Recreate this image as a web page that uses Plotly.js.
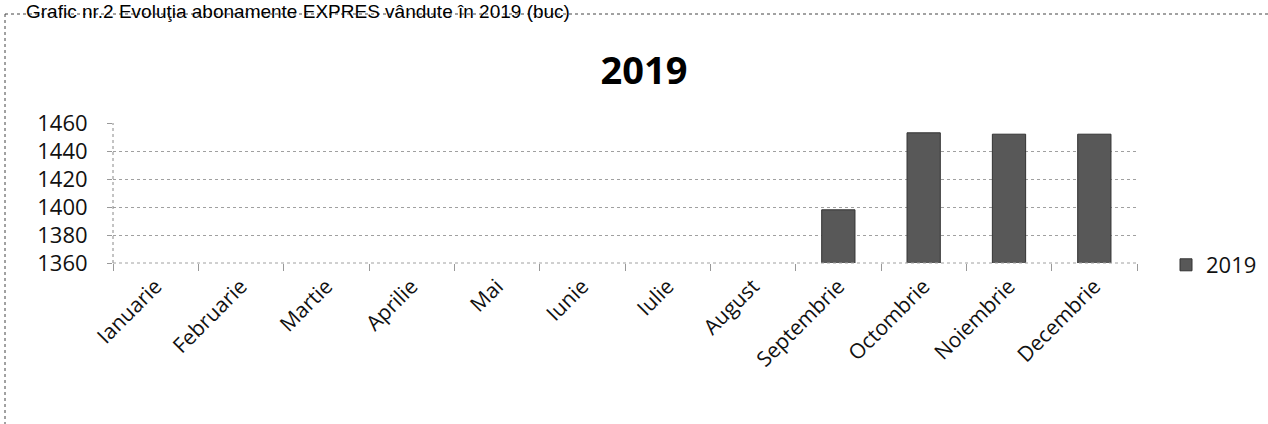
<!DOCTYPE html>
<html>
<head>
<meta charset="utf-8">
<script src="https://cdn.plot.ly/plotly-3.0.1.min.js"></script>
<style>html,body{margin:0;padding:0;background:#fff;}#chart{width:1268px;height:424px;}</style>
</head>
<body>
<div id="chart"></div>
<script>
const months = ["Ianuarie","Februarie","Martie","Aprilie","Mai","Iunie","Iulie","August","Septembrie","Octombrie","Noiembrie","Decembrie"];
const values2019 = [null,null,null,null,null,null,null,null,1398,1453,1452,1452];
const seriesName = "2019";
const chartTitle = "2019";
const captionText = "Grafic nr.2 Evoluţia abonamente EXPRES vândute în 2019 (buc)";
const yTicks = [1360,1380,1400,1420,1440,1460];

// pixel helpers for decorations (plot area: x 113..1137, y 123..263)
const ML = 113, MR = 131, MT = 123, MB = 161, W = 1268, H = 424;
const PW = W - ML - MR, PH = H - MT - MB;
const px = x => (x - ML) / PW;
const py = y => (H - MB - y) / PH;

const trace = {
  type: 'bar',
  x: months,
  y: values2019,
  name: seriesName,
  marker: {color: '#585858', line: {color: '#333', width: 1}},
  showlegend: true
};

const layout = {
  width: W, height: H,
  margin: {l: ML, r: MR, t: MT, b: MB},
  paper_bgcolor: '#fff', plot_bgcolor: '#fff',
  font: {family: '"Open Sans", sans-serif', color: '#111'},
  bargap: 0.61,
  title: {text: chartTitle, font: {family: '"Open Sans", sans-serif', size: 38, color: '#000', weight: 'bold'},
          x: px(644), xref: 'paper', xanchor: 'center', y: 1 - 71 / H, yanchor: 'middle'},
  xaxis: {
    type: 'category', tickangle: -45, ticks: 'outside', tickson: 'boundaries', ticklen: 7,
    tickcolor: '#999', tickfont: {size: 21, color: '#111'}, showgrid: false, showline: false,
    zeroline: false, automargin: false, ticklabelstandoff: 6
  },
  yaxis: {
    range: [1360, 1460], tickvals: yTicks, ticks: 'outside', ticklen: 5, tickcolor: '#999',
    showgrid: true, gridcolor: '#a0a0a0', griddash: 'dot', gridwidth: 1,
    zeroline: false, showline: false, tickfont: {size: 22, color: '#111'},
    ticklabelstandoff: 15, automargin: false
  },
  legend: {xref: 'container', yref: 'container', x: 1166 / W, xanchor: 'left', y: 1 - 265 / H, yanchor: 'middle',
           font: {size: 22, color: '#111'}, bgcolor: 'rgba(0,0,0,0)', itemwidth: 30},
  shapes: [
    {type: 'line', xref: 'paper', yref: 'paper', x0: 0, x1: 0, y0: 0, y1: 1, line: {color: '#888', width: 1, dash: 'dot'}},
    {type: 'line', xref: 'paper', yref: 'paper', x0: 0, x1: 1, y0: 0, y1: 0, line: {color: '#a0a0a0', width: 1, dash: 'dot'}},
    {type: 'line', xref: 'paper', yref: 'paper', x0: px(5), x1: px(1268), y0: py(14), y1: py(14), line: {color: '#444', width: 1, dash: 'dot'}},
    {type: 'line', xref: 'paper', yref: 'paper', x0: px(5), x1: px(5), y0: py(14), y1: py(424), line: {color: '#444', width: 1, dash: 'dot'}}
  ],
  annotations: [
    {text: captionText, xref: 'paper', yref: 'paper', x: px(571), xanchor: 'right', y: py(0), yanchor: 'top',
     showarrow: false, borderpad: 0, font: {family: '"Liberation Sans", Arial, sans-serif', size: 19, color: '#000'}}
  ]
};

Plotly.newPlot('chart', [trace], layout, {displayModeBar: false, staticPlot: true});
</script>
</body>
</html>
